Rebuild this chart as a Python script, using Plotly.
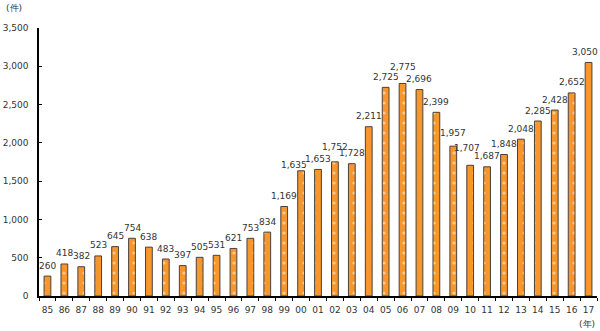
import plotly.graph_objects as go

years = ["85","86","87","88","89","90","91","92","93","94","95","96","97","98","99",
         "00","01","02","03","04","05","06","07","08","09","10","11","12","13","14","15","16","17"]
counts = [260,418,382,523,645,754,638,483,397,505,531,621,753,834,1169,
          1635,1653,1752,1728,2211,2725,2775,2696,2399,1957,1707,1687,1848,2048,2285,2428,2652,3050]
labels = [f"{v:,}" for v in counts]

# small placement nudges (px) for crowded value labels, as in the original
label_nudge = {"00": (-7, -5), "02": (0, 4), "06": (0, 6), "09": (0, 3), "10": (-3, 7), "17": (-4, 0)}

fig = go.Figure()
fig.add_trace(go.Bar(
    x=years, y=counts,
    marker=dict(color="#F7962B", line=dict(color="#4a4038", width=1),
                pattern=dict(shape=".", fgcolor="white", bgcolor="#F7962B", size=10, solidity=0.08)),
    width=0.4, hoverinfo="x+y",
))

annotations = []
for i, (yr, v, t) in enumerate(zip(years, counts, labels)):
    dx, dy = label_nudge.get(yr, (0, 0))
    # on a category axis, annotation x is the category's index
    annotations.append(dict(x=i, y=v, text=t, showarrow=False, xanchor="center", yanchor="middle",
                            xshift=dx, yshift=10.5 + dy,
                            font=dict(family="DejaVu Sans", size=9, color="#333333")))

annotations += [
    dict(text="(件)", x=0, y=1, xref="paper", yref="paper", xanchor="left", yanchor="top",
         xshift=-35, yshift=27, showarrow=False, font=dict(size=9, color="#333333")),
    dict(text="(年)", x=1, y=0, xref="paper", yref="paper", xanchor="right", yanchor="top",
         xshift=0, yshift=-21, showarrow=False, font=dict(size=9, color="#333333")),
]

fig.update_layout(
    width=600, height=331, margin=dict(l=35, r=3, t=28, b=35),
    paper_bgcolor="white", plot_bgcolor="white", showlegend=False,
    font=dict(family="DejaVu Sans", size=9, color="#333333"),
    xaxis=dict(type="category", range=[-0.5, 32.5], showline=True, linecolor="black", linewidth=1.5,
               ticks="outside", tickson="boundaries", ticklen=3, tickcolor="black",
               tickangle=0, showgrid=False, ticklabelstandoff=4,
               tickfont=dict(size=9, color="#333333")),
    yaxis=dict(range=[0, 3500], dtick=500, tickformat=",", showline=True, linecolor="black",
               linewidth=1.5, ticks="inside", ticklen=3, tickcolor="black", showgrid=False,
               zeroline=False, ticklabelstandoff=7, tickfont=dict(size=9, color="#333333")),
    annotations=annotations,
)

fig.write_html("out.html")
